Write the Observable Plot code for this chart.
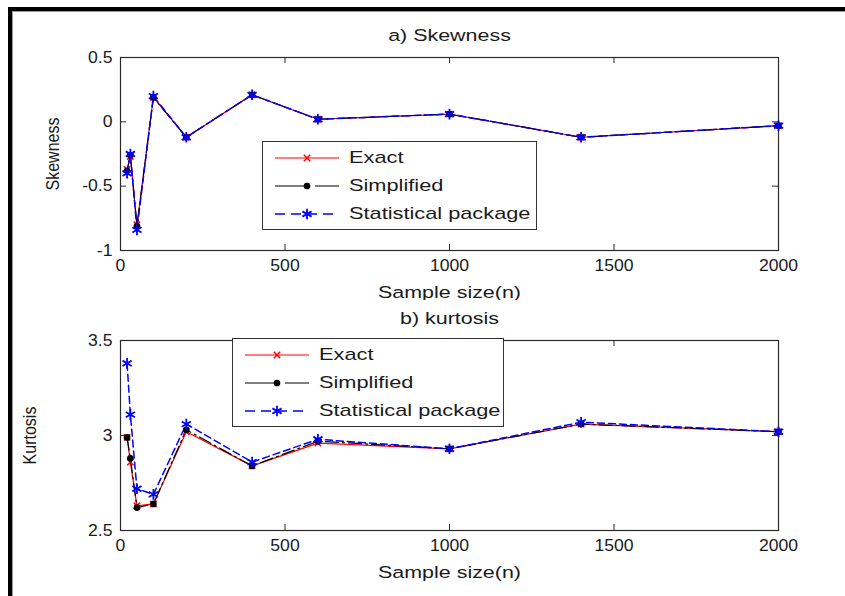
<!DOCTYPE html>
<html><head><meta charset="utf-8">
<script src="https://cdn.jsdelivr.net/npm/d3@7"></script>
<script src="https://cdn.jsdelivr.net/npm/@observablehq/plot@0.6"></script>
<style>
body{margin:0;background:#fff;font-family:"Liberation Sans",Arial,sans-serif}
#wrap{position:relative;width:845px;height:596px;overflow:hidden;background:#fff}
#border{position:absolute;left:8px;top:7px;width:900px;height:700px;border-top:4px solid #000;border-left:4px solid #000;box-shadow:inset 1px 1px 0 #999}
.panel{position:absolute;left:0}
.legend{position:absolute;background:#fff;border:1.5px solid #333;font-size:17px;color:#1a1a1a;box-sizing:border-box}
.legend .row{display:flex;align-items:center;height:28px}
.legend svg{display:block}
.legend span{display:inline-block;transform:scaleX(1.28);transform-origin:0 50%;white-space:nowrap}
</style></head>
<body><div id="wrap"><div id="border"></div></div>
<script>
// ---- data ----
const sampleSize = [20, 30, 50, 100, 200, 400, 600, 1000, 1400, 2000];
const skewExact       = [-0.37, -0.27, -0.80, 0.19, -0.12, 0.21, 0.02, 0.06, -0.12, -0.03];
const skewSimplified  = [-0.38, -0.26, -0.81, 0.19, -0.12, 0.21, 0.02, 0.06, -0.12, -0.03];
const skewStatistical = [-0.40, -0.25, -0.84, 0.20, -0.12, 0.21, 0.02, 0.06, -0.12, -0.03];
const kurtExact       = [2.99, 2.86, 2.63, 2.64, 3.02, 2.84, 2.96, 2.93, 3.06, 3.02];
const kurtSimplified  = [2.99, 2.88, 2.62, 2.64, 3.03, 2.84, 2.97, 2.93, 3.06, 3.02];
const kurtStatistical = [3.38, 3.11, 2.72, 2.69, 3.06, 2.86, 2.98, 2.93, 3.07, 3.02];
const seriesNames = ["Exact", "Simplified", "Statistical package"];
const xTicks = [0, 500, 1000, 1500, 2000];
const skewTicks = [-1, -0.5, 0, 0.5];
const kurtTicks = [2.5, 3, 3.5];

// ---- styles ----
const styles = [
  {color: "#ff0000", dash: null, symbol: "times", r: 3, fill: "none", sw: 1.2},
  {color: "#000000", dash: "13,4,2,4", symbol: "circle", r: 2.6, fill: "#000", sw: 1.2},
  {color: "#0000ff", dash: "7,4", symbol: "asterisk", r: 5, fill: "none", sw: 1.5}
];
const font = "Liberation Sans, Arial, sans-serif";

function stretchText(svg) {
  svg.querySelectorAll("text").forEach(t => {
    const g = t.parentNode;
    const label = (g && g.getAttribute("aria-label")) || "";
    const tr = t.getAttribute("transform") || "";
    let sx = 1, sy = 1;
    if (label.includes("tick label")) sx = 1.1;
    else if (tr.includes("rotate")) sy = 1.15;
    else sx = 1.3;
    const x = parseFloat(t.getAttribute("x")) || 0;
    t.setAttribute("transform", `${tr} translate(${x},0) scale(${sx},${sy}) translate(${-x},0)`);
  });
}

function panel(values, yTicks, title, ylabel, top, height, mT, mB, ylabelDx) {
  const rows = [];
  values.forEach((arr, s) => arr.forEach((v, i) => rows.push({n: sampleSize[i], v, s})));
  const innerH = height - mT - mB;
  const marks = [
    Plot.frame({stroke: "#2a2a2a", strokeWidth: 1.2}),
    Plot.tickX(xTicks, {x: d => d, stroke: "#2a2a2a", insetTop: innerH - 6}),
    Plot.tickX(xTicks, {x: d => d, stroke: "#2a2a2a", insetBottom: innerH - 6}),
    Plot.tickY(yTicks, {y: d => d, stroke: "#2a2a2a", insetRight: 658 - 6}),
    Plot.tickY(yTicks, {y: d => d, stroke: "#2a2a2a", insetLeft: 658 - 6}),
    Plot.axisX({ticks: xTicks, tickSize: 0, tickPadding: 9, label: null, fontSize: 16, tickFormat: d => String(d)}),
    Plot.axisY({ticks: yTicks, tickSize: 0, tickPadding: 8, label: null, fontSize: 16, tickFormat: d => String(d)}),
    Plot.text(["Sample size(n)"], {frameAnchor: "bottom", dy: 42, lineAnchor: "middle", fontSize: 16.5}),
    Plot.text([title], {frameAnchor: "top", dy: -22, lineAnchor: "middle", fontSize: 16.5}),
    Plot.text([ylabel], {frameAnchor: "left", dx: ylabelDx, rotate: -90, lineAnchor: "middle", textAnchor: "middle", fontSize: 16})
  ];
  styles.forEach((st, s) => {
    const d = rows.filter(r => r.s === s);
    marks.push(Plot.line(d, {x: "n", y: "v", stroke: st.color, strokeWidth: st.sw, strokeDasharray: st.dash}));
  });
  styles.forEach((st, s) => {
    const d = rows.filter(r => r.s === s);
    marks.push(Plot.dot(d, {x: "n", y: "v", symbol: () => st.symbol, r: st.r, stroke: st.color, fill: st.fill, strokeWidth: st.sw + 0.3}));
  });
  const p = Plot.plot({
    width: 845, height, marginLeft: 120, marginRight: 67, marginTop: mT, marginBottom: mB,
    style: {fontFamily: font, fontSize: "16px", color: "#1a1a1a", background: "transparent"},
    x: {domain: [0, 2000]},
    y: {domain: [yTicks[0], yTicks[yTicks.length - 1]]},
    symbol: {type: "identity"},
    marks
  });
  stretchText(p);
  p.classList.add("panel");
  p.style.top = top + "px";
  return p;
}

function legend(left, top, width, markerX) {
  const div = document.createElement("div");
  div.className = "legend";
  div.style.left = left + "px"; div.style.top = top + "px"; div.style.width = width + "px";
  div.style.paddingTop = "2px"; div.style.height = "89px";
  seriesNames.forEach((name, s) => {
    const st = styles[s];
    const row = document.createElement("div"); row.className = "row";
    const ns = "http://www.w3.org/2000/svg";
    const svg = document.createElementNS(ns, "svg");
    svg.setAttribute("width", markerX * 2 + 6); svg.setAttribute("height", 20);
    svg.style.marginLeft = "10px"; svg.style.marginRight = "6px";
    const ln = document.createElementNS(ns, "line");
    ln.setAttribute("x1", 2); ln.setAttribute("x2", markerX * 2 + 2); ln.setAttribute("y1", 10); ln.setAttribute("y2", 10);
    ln.setAttribute("stroke", st.color); ln.setAttribute("stroke-width", st.sw);
    if (st.dash) ln.setAttribute("stroke-dasharray", s === 1 ? `${markerX},${8},${markerX}` : "10,6");
    svg.appendChild(ln);
    const path = document.createElementNS(ns, "path");
    path.setAttribute("d", d3.symbol(st.symbol === "times" ? d3.symbolTimes : st.symbol === "asterisk" ? d3.symbolAsterisk : d3.symbolCircle, Math.PI * st.r * st.r)());
    path.setAttribute("transform", `translate(${markerX + 2},10)`);
    path.setAttribute("stroke", st.color); path.setAttribute("fill", st.fill); path.setAttribute("stroke-width", st.sw + 0.3);
    svg.appendChild(path);
    row.appendChild(svg);
    const t = document.createElement("span"); t.textContent = name; row.appendChild(t);
    div.appendChild(row);
  });
  return div;
}

const wrap = document.getElementById("wrap");
wrap.appendChild(panel([skewExact, skewSimplified, skewStatistical], skewTicks, "a) Skewness", "Skewness", 0, 300, 57, 50, -67));
wrap.appendChild(panel([kurtExact, kurtSimplified, kurtStatistical], kurtTicks, "b) kurtosis", "Kurtosis", 300, 296, 40, 66, -90));
wrap.appendChild(legend(262, 141, 275, 32));
wrap.appendChild(legend(232, 338, 272, 32));
</script>
</body></html>
